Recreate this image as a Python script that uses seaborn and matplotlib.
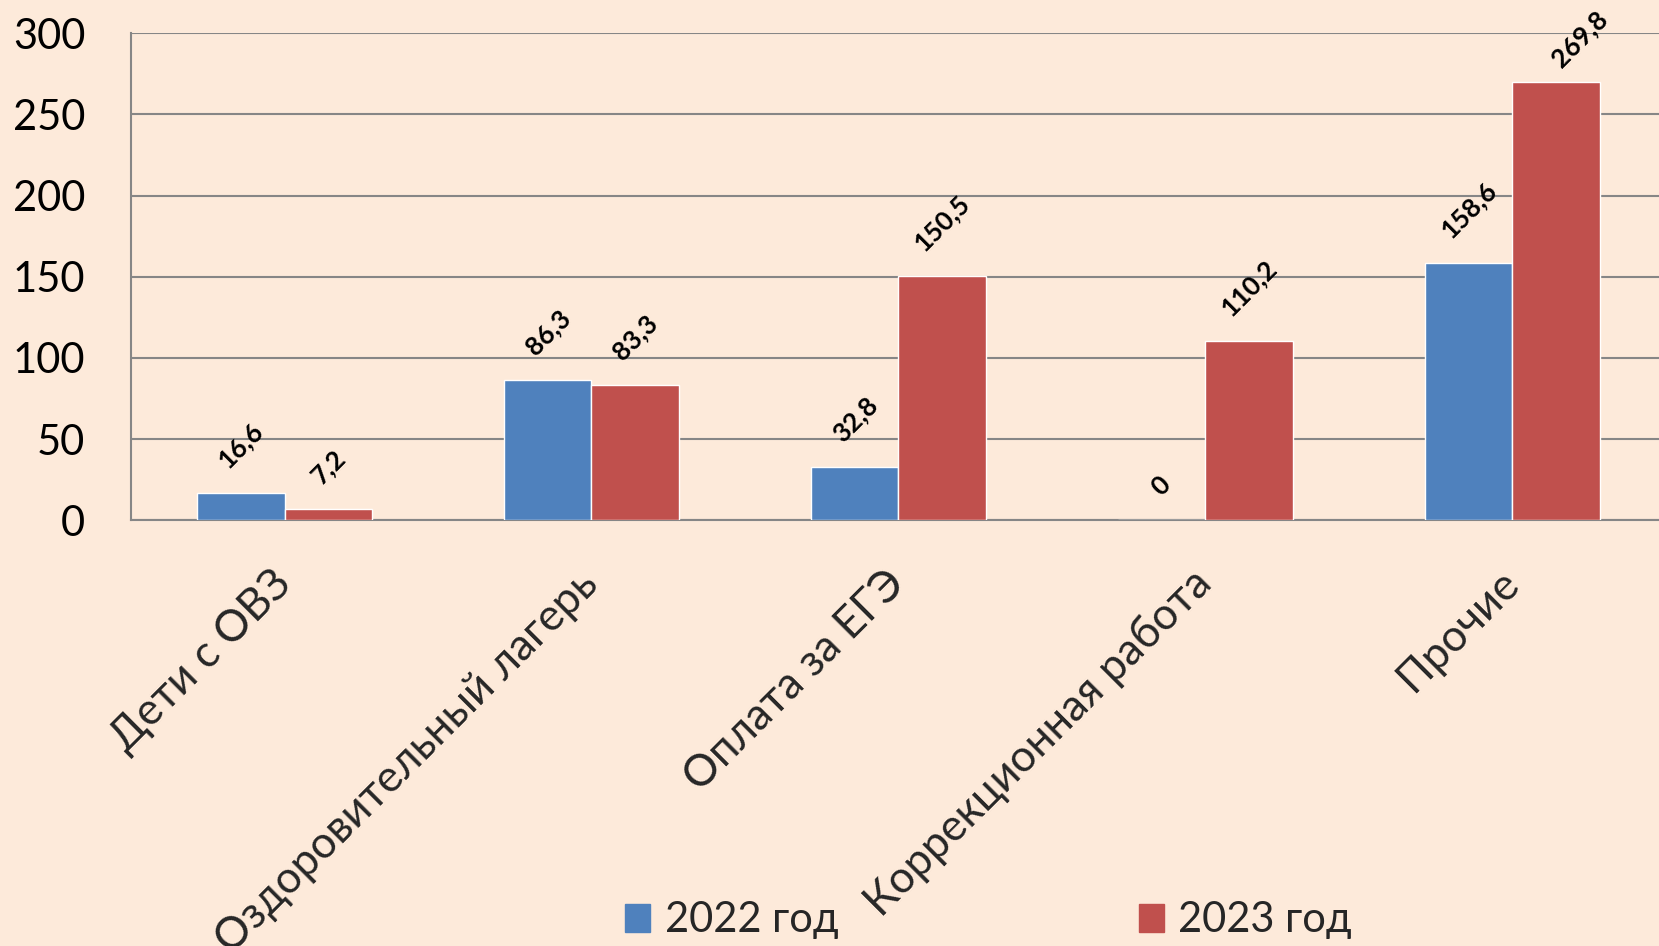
import numpy as np
import pandas as pd
import matplotlib
matplotlib.use("Agg")
import matplotlib.pyplot as plt
import seaborn as sns

# data
categories = ["Дети с ОВЗ", "Оздоровительный лагерь", "Оплата за ЕГЭ",
              "Коррекционная работа", "Прочие"]
v2022 = [16.6, 86.3, 32.8, 0, 158.6]
v2023 = [7.2, 83.3, 150.5, 110.2, 269.8]
series = ["2022 год", "2023 год"]
colors = {"2022 год": "#4F81BD", "2023 год": "#C0504D"}

df = pd.DataFrame({
    "cat": categories * 2,
    "year": [series[0]] * len(categories) + [series[1]] * len(categories),
    "value": v2022 + v2023,
})

bg = "#FDEADA"
grid_c = "#868686"

sns.set_style("white")
plt.rcParams["font.family"] = ["Lato", "DejaVu Sans"]

fig = plt.figure(figsize=(16.59, 9.46), dpi=100, facecolor=bg)
ax = fig.add_axes([0.079, 0.450, 0.925, 0.515])
ax.set_facecolor(bg)

sns.barplot(data=df, x="cat", y="value", hue="year", order=categories,
            hue_order=series, palette=colors, saturation=1, width=0.57,
            ax=ax, legend=False, zorder=3)

# data labels
for cont, vals in zip(ax.containers, [v2022, v2023]):
    labs = [f"{v:g}".replace(".", ",") for v in vals]
    texts = ax.bar_label(cont, labels=labs, padding=15, rotation=45,
                         fontsize=19, fontweight="bold", color="black")
# the top label is pushed down/right to stay inside the chart
texts[-1].xyann = (17, 8)

ax.set_ylim(0, 300)
ax.set_xlim(-0.5, len(categories) - 0.5)
ax.set_yticks(np.arange(0, 301, 50))
ax.yaxis.grid(True, color=grid_c, linewidth=1.5, zorder=0)
ax.set_axisbelow(True)
ax.tick_params(axis="y", labelsize=30, length=11, width=1.5, color=grid_c,
               pad=22, labelcolor="black")

# category labels, boundary ticks
ax.set_xticks(range(len(categories)))
ax.set_xticklabels(categories, rotation=45, ha="right", va="center",
                   rotation_mode="anchor", fontsize=31.5)
ax.tick_params(axis="x", which="major", length=0, pad=41)
ax.set_xticks(np.arange(-0.5, len(categories), 1), minor=True)
ax.tick_params(axis="x", which="minor", length=11, width=1.5, color=grid_c)

for s in ["top", "right"]:
    ax.spines[s].set_visible(False)
for s in ["left", "bottom"]:
    ax.spines[s].set_color(grid_c)
    ax.spines[s].set_linewidth(1.5)
ax.set_xlabel("")
ax.set_ylabel("")

handles = [plt.Rectangle((0, 0), 1, 1, color=colors[s]) for s in series]
fig.legend(handles, series, loc="center", bbox_to_anchor=(0.596, 0.027),
           ncol=2, frameon=False, fontsize=30, handlelength=0.6,
           handleheight=0.65, handletextpad=0.35, columnspacing=7.2)

fig.savefig("out.png", dpi=100, facecolor=bg)
